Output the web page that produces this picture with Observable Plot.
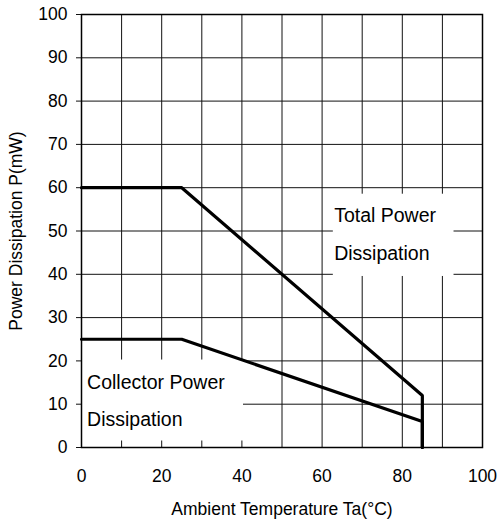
<!DOCTYPE html>
<html>
<head>
<meta charset="utf-8">
<script src="https://cdn.jsdelivr.net/npm/d3@7"></script>
<script src="https://cdn.jsdelivr.net/npm/@observablehq/plot@0.6"></script>
<style>
  html, body { margin: 0; padding: 0; background: #fff; }
  #chart svg { display: block; }
</style>
</head>
<body>
<div id="chart"></div>
<script>
// Data
const temps = [0, 25, 85, 85];
const totalPower = [60, 60, 12, 0];
const collectorPower = [25, 25, 6, 0];
const xTicks = [0, 20, 40, 60, 80, 100];
const xGrid = [0, 10, 20, 30, 40, 50, 60, 70, 80, 90, 100];
const yTicks = [0, 10, 20, 30, 40, 50, 60, 70, 80, 90, 100];
const totalLabel = ["Total Power", "Dissipation"];
const collectorLabel = ["Collector Power", "Dissipation"];

const total = temps.map((t, i) => ({t, p: totalPower[i]}));
const collector = temps.map((t, i) => ({t, p: collectorPower[i]}));

const font = "'Liberation Sans', Arial, sans-serif";

const chart = Plot.plot({
  width: 499,
  height: 522,
  marginTop: 14,
  marginBottom: 75,
  marginLeft: 81,
  marginRight: 17,
  style: {fontFamily: font, fontSize: "17.5px", color: "#000", background: "#fff"},
  x: {domain: [0, 100]},
  y: {domain: [0, 100]},
  marks: [
    Plot.gridX(xGrid, {stroke: "#111", strokeOpacity: 1, strokeWidth: 1}),
    Plot.gridY(yTicks, {stroke: "#111", strokeOpacity: 1, strokeWidth: 1}),
    Plot.rect([0], {x1: 62.8, x2: 92.9, y1: 39.5, y2: 58.5, fill: "white"}),
    Plot.rect([0], {x1: 0, x2: 40.4, y1: 1.5, y2: 20.2, fill: "white"}),
    Plot.axisY(yTicks, {tickSize: 5, tickPadding: 9, stroke: "#111", fontSize: "17.5px",
      label: "Power Dissipation P(mW)", labelAnchor: "center", labelOffset: 72, labelArrow: "none"}),
    Plot.axisX(xTicks, {tickSize: 0, tickPadding: 22, fontSize: "17.5px",
      label: "Ambient Temperature Ta(°C)", labelAnchor: "center", labelOffset: 67, labelArrow: "none"}),
    Plot.line(total, {x: "t", y: "p", stroke: "#000", strokeWidth: 3.2, strokeLinejoin: "miter"}),
    Plot.line(collector, {x: "t", y: "p", stroke: "#000", strokeWidth: 3.2, strokeLinejoin: "miter"}),
    Plot.text(totalLabel, {x: 63, y: [53.5, 44.8], text: d => d, textAnchor: "start", fontSize: "19.5px", fill: "#000"}),
    Plot.text(collectorLabel, {x: 1.4, y: [15.0, 6.4], text: d => d, textAnchor: "start", fontSize: "19.5px", fill: "#000"}),
    Plot.frame({stroke: "#000", strokeWidth: 1.5})
  ]
});
document.getElementById("chart").appendChild(chart);
</script>
</body>
</html>
